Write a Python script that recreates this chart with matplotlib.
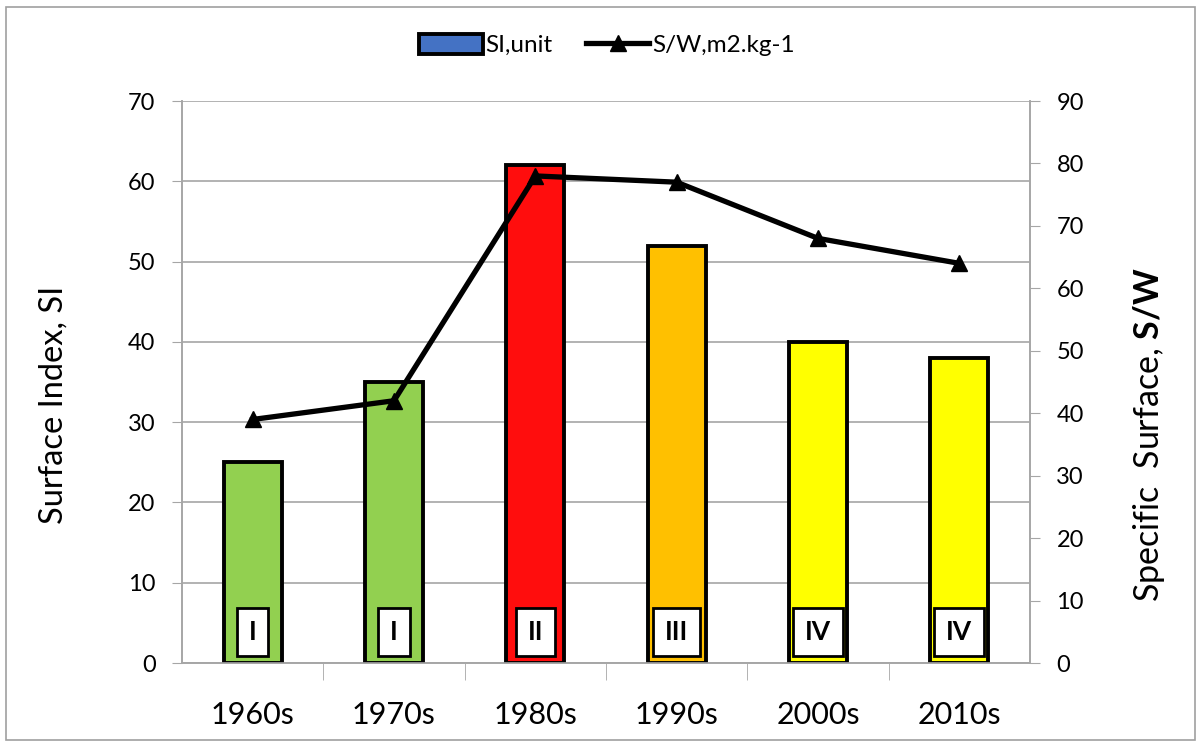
import matplotlib.pyplot as plt
from matplotlib.patches import Rectangle
from matplotlib.ticker import MultipleLocator

decades = ["1960s", "1970s", "1980s", "1990s", "2000s", "2010s"]
si_values = [25, 35, 62, 52, 40, 38]
sw_values = [39, 42, 78, 77, 68, 64]
stages = ["I", "I", "II", "III", "IV", "IV"]
bar_colors = ["#92D050", "#92D050", "#FF0D0D", "#FFC000", "#FFFF00", "#FFFF00"]

plt.rcParams['font.family'] = ['Lato', 'DejaVu Sans']
plt.rcParams['mathtext.fontset'] = 'custom'
plt.rcParams['mathtext.rm'] = 'Lato'
plt.rcParams['mathtext.bf'] = 'Lato:bold'

fig = plt.figure(figsize=(12.02, 7.47), dpi=100)
fig.patches.append(Rectangle((0.005, 0.01), 0.989, 0.98, transform=fig.transFigure,
                             fill=False, edgecolor="#A0A0A0", linewidth=1.2))

ax = fig.add_axes([182 / 1202, 1 - 663 / 747, 848 / 1202, 562 / 747])
x = list(range(len(decades)))

bars = ax.bar(x, si_values, width=0.41, color=bar_colors, edgecolor="black",
              linewidth=2.8, zorder=3, label="SI,unit")
ax.set_xlim(-0.5, len(decades) - 0.5)
ax.set_ylim(0, 70)
ax.yaxis.set_major_locator(MultipleLocator(10))
ax.grid(axis="y", color="#A6A6A6", linewidth=1.2, zorder=0)
ax.set_xticks(x)
ax.set_xticklabels(decades, fontsize=22)
ax.set_xticks([i + 0.5 for i in x[:-1]], minor=True)
ax.tick_params(axis="x", which="major", length=0, pad=27)
ax.tick_params(axis="x", which="minor", length=12, color="#A6A6A6")
ax.tick_params(axis="y", labelsize=17, length=7, color="#A6A6A6", pad=12)
ax.set_ylabel("Surface Index, SI", fontsize=23.5)
ax.yaxis.set_label_coords(-(182 - 69) / 848, 0.459)
for side in ["left", "right", "bottom"]:
    ax.spines[side].set_color("#A6A6A6")
    ax.spines[side].set_linewidth(1.2)
ax.spines["top"].set_visible(False)

for xi, s in zip(x, stages):
    ax.text(xi, 3.9, s, ha="center", va="center", fontsize=19, fontweight="bold",
            zorder=5, bbox=dict(boxstyle="square,pad=0.45", facecolor="white",
                                edgecolor="black", linewidth=2))

ax2 = ax.twinx()
ax2.plot(x, sw_values, color="black", linewidth=3.8, marker="^", markersize=11,
         zorder=4, label="S/W,m2.kg-1")
ax2.set_ylim(0, 90)
ax2.yaxis.set_major_locator(MultipleLocator(10))
ax2.tick_params(axis="y", labelsize=17, length=7, color="#A6A6A6", pad=12)
ax2.set_ylabel(r"Specific  Surface, $\mathbf{S/W}$", fontsize=24.5)
ax2.yaxis.set_label_coords(1 + (1131 - 1030) / 848, 0.406)
for side in ["left", "right", "bottom"]:
    ax2.spines[side].set_color("#A6A6A6")
    ax2.spines[side].set_linewidth(1.2)
ax2.spines["top"].set_visible(False)

h1, l1 = ax.get_legend_handles_labels()
h2, l2 = ax2.get_legend_handles_labels()
leg = fig.legend(h1 + h2, l1 + l2, loc="center", bbox_to_anchor=(0.505, 1 - 45 / 747),
                 ncol=2, frameon=False, fontsize=17.5, handlelength=2.6,
                 handleheight=0.9, handletextpad=0.1, columnspacing=1.4)
leg.legend_handles[0].set_facecolor("#4472C4")

fig.savefig("out.png", dpi=100)
